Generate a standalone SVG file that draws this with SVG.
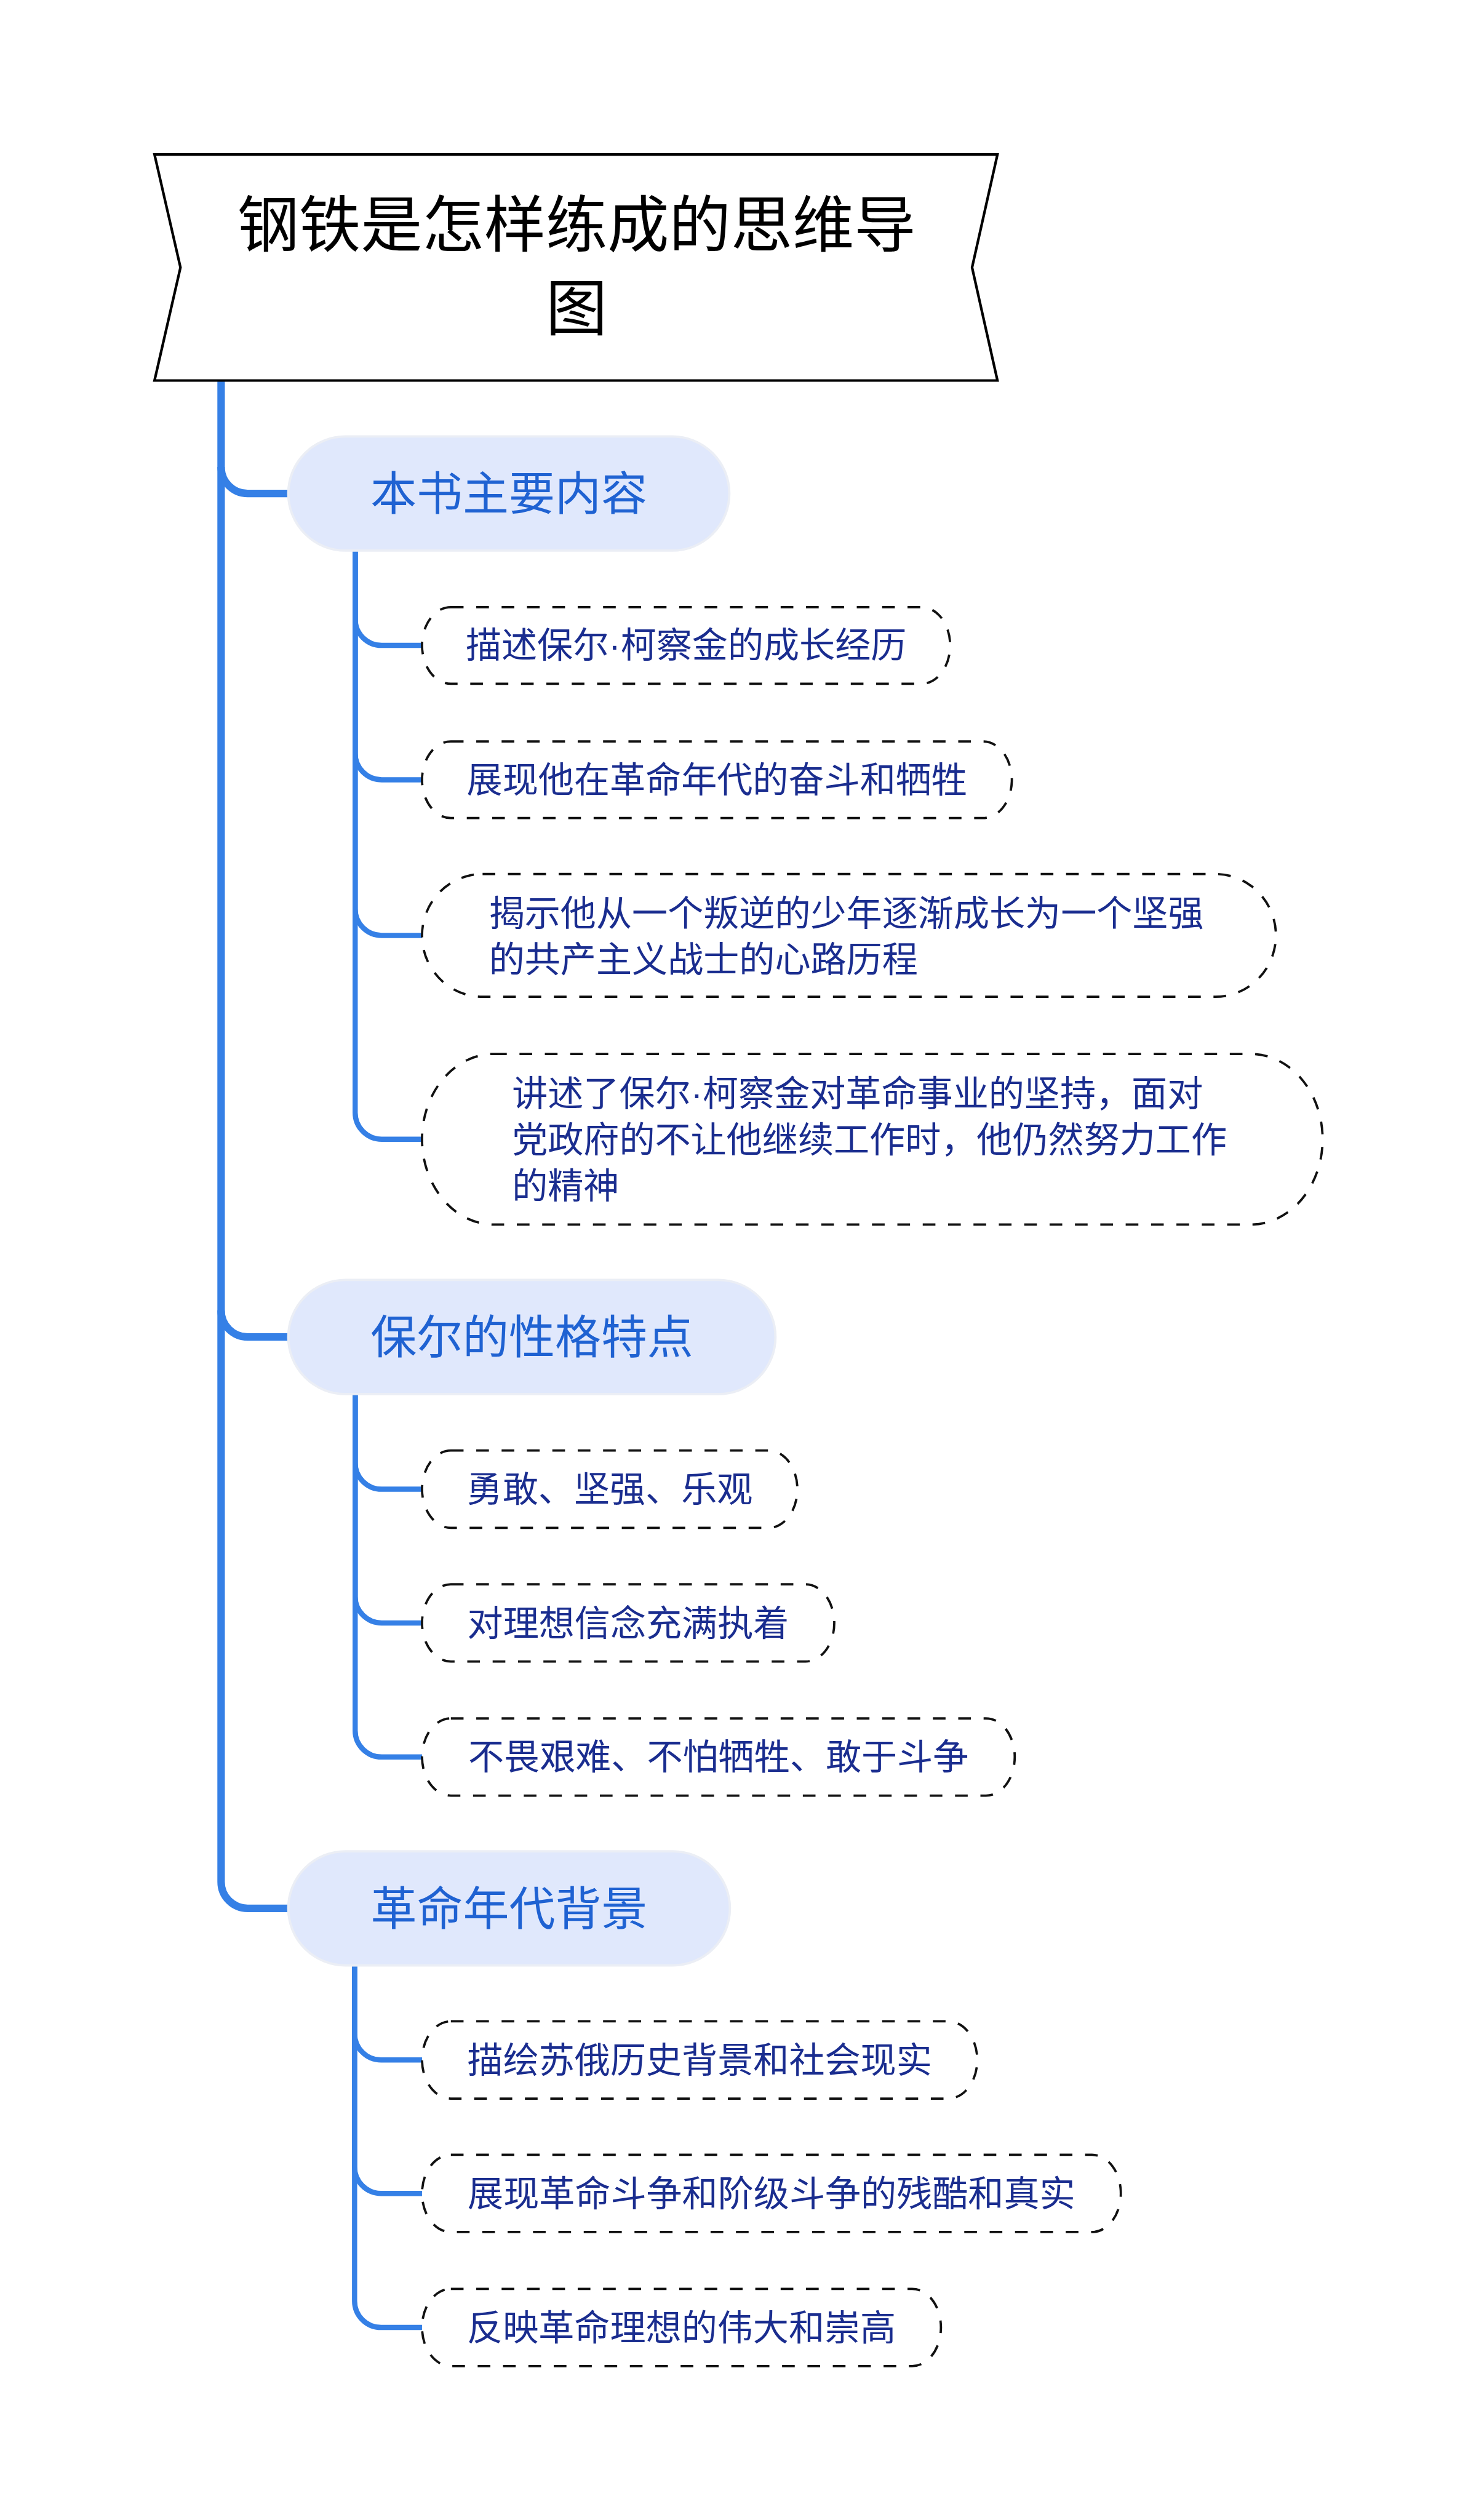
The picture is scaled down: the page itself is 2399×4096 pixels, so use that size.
<svg xmlns="http://www.w3.org/2000/svg" width="2399" height="4096" viewBox="0 0 2399 4096">
<style>
.bg{fill:#ffffff}
.title-box{fill:#ffffff;stroke:#000000;stroke-width:4.5;stroke-linejoin:miter}
.title-text{font-family:"Noto Sans CJK SC","Noto Sans",sans-serif;font-size:107px;fill:#000000;text-anchor:middle}
.l1-box{fill:#E0E8FC;stroke:#EBEEF5;stroke-width:4}
.l1-text{font-family:"Noto Sans CJK SC","Noto Sans",sans-serif;font-size:80px;fill:#1F62D2;text-anchor:middle}
.l2-box{fill:#ffffff;stroke:#111111;stroke-width:4;stroke-dasharray:22 22}
.l2-text{font-family:"Noto Sans CJK SC","Noto Sans",sans-serif;font-size:62px;fill:#1A2D8F}
.mid{text-anchor:middle}
.dot{font-family:"Liberation Sans","Noto Sans",sans-serif}
.trunk{fill:none;stroke:#3580E6;stroke-width:13}
.sub{fill:none;stroke:#3580E6;stroke-width:9}
</style>
<rect class="bg" x="0" y="0" width="2399" height="4096"/>
<g transform="scale(0.9371)">
  <g id="connectors">
    <path class="trunk" d="M383.5 660 V3264 A46 46 0 0 0 429.5 3310 H502"/>
    <path class="trunk" d="M383.5 810 A46 46 0 0 0 429.5 856 H502"/>
    <path class="trunk" d="M383.5 2273 A46 46 0 0 0 429.5 2319 H502"/>
    <path class="sub" d="M616 955 V1073.5 A46 46 0 0 0 662 1119.5 H732"/>
    <path class="sub" d="M616 955 V1306.5 A46 46 0 0 0 662 1352.5 H732"/>
    <path class="sub" d="M616 955 V1576.5 A46 46 0 0 0 662 1622.5 H732"/>
    <path class="sub" d="M616 955 V1930 A46 46 0 0 0 662 1976 H732"/>
    <path class="sub" d="M616 2418 V2537 A46 46 0 0 0 662 2583 H732"/>
    <path class="sub" d="M616 2418 V2769 A46 46 0 0 0 662 2815 H732"/>
    <path class="sub" d="M616 2418 V3001.5 A46 46 0 0 0 662 3047.5 H732"/>
    <path class="sub" d="M615 3409 V3527 A46 46 0 0 0 661 3573 H732"/>
    <path class="sub" d="M615 3409 V3758.5 A46 46 0 0 0 661 3804.5 H732"/>
    <path class="sub" d="M615 3409 V3991 A46 46 0 0 0 661 4037 H732"/>
  </g>

  <g id="root">
    <polygon class="title-box" points="268,268 1730,268 1686,464 1730,660 268,660 313,464"/>
    <text class="title-text" x="1000" y="428">钢铁是怎样练成的思维导<tspan x="1000" dy="145">图</tspan></text>
  </g>

  <g id="n1">
    <rect class="l1-box" x="500" y="757" width="765" height="198" rx="99" ry="99"/>
    <text class="l1-text" x="882.5" y="885">本书主要内容</text>
  </g>
  <g id="n1-1">
    <path class="l2-box" d="M782 1053 H1598 A50 66.5 0 0 1 1648 1119.5 A50 66.5 0 0 1 1598 1186 H782 A50 66.5 0 0 1 732 1119.5 A50 66.5 0 0 1 782 1053 Z"/>
    <text class="l2-text mid" x="1190" y="1141">描述保尔<tspan class="dot">·</tspan>柯察金的成长经历</text>
  </g>
  <g id="n1-2">
    <path class="l2-box" d="M782 1286 H1705 A50 66.5 0 0 1 1755 1352.5 A50 66.5 0 0 1 1705 1419 H782 A50 66.5 0 0 1 732 1352.5 A50 66.5 0 0 1 782 1286 Z"/>
    <text class="l2-text mid" x="1243.5" y="1374">展现他在革命年代的奋斗和牺牲</text>
  </g>
  <g id="n1-3">
    <path class="l2-box" d="M837 1516 H2108 A105 106.5 0 0 1 2213 1622.5 A105 106.5 0 0 1 2108 1729 H837 A105 106.5 0 0 1 732 1622.5 A105 106.5 0 0 1 837 1516 Z"/>
    <text class="l2-text" x="848" y="1606">揭示他从一个叛逆的少年逐渐成长为一个坚强<tspan x="848" dy="80">的共产主义战士的心路历程</tspan></text>
  </g>
  <g id="n1-4">
    <path class="l2-box" d="M857 1828 H2169 A125 148 0 0 1 2294 1976 A125 148 0 0 1 2169 2124 H857 A125 148 0 0 1 732 1976 A125 148 0 0 1 857 1828 Z"/>
    <text class="l2-text" x="888" y="1919">讲述了保尔<tspan class="dot">·</tspan>柯察金对革命事业的坚持，面对<tspan x="888" dy="80">党政府的不让他继续工作时，他仍然努力工作</tspan><tspan x="888" dy="80">的精神</tspan></text>
  </g>

  <g id="n2">
    <rect class="l1-box" x="500" y="2220" width="845" height="198" rx="99" ry="99"/>
    <text class="l1-text" x="922.5" y="2348">保尔的性格特点</text>
  </g>
  <g id="n2-1">
    <path class="l2-box" d="M782 2516 H1333 A50 67 0 0 1 1383 2583 A50 67 0 0 1 1333 2650 H782 A50 67 0 0 1 732 2583 A50 67 0 0 1 782 2516 Z"/>
    <text class="l2-text mid" x="1057.5" y="2605">勇敢、坚强、乐观</text>
  </g>
  <g id="n2-2">
    <path class="l2-box" d="M782 2748 H1397 A50 67 0 0 1 1447 2815 A50 67 0 0 1 1397 2882 H782 A50 67 0 0 1 732 2815 A50 67 0 0 1 782 2748 Z"/>
    <text class="l2-text mid" x="1089.5" y="2837">对理想信念充满执着</text>
  </g>
  <g id="n2-3">
    <path class="l2-box" d="M782 2980.5 H1710 A50 67 0 0 1 1760 3047.5 A50 67 0 0 1 1710 3114.5 H782 A50 67 0 0 1 732 3047.5 A50 67 0 0 1 782 2980.5 Z"/>
    <text class="l2-text mid" x="1246" y="3069.5">不畏艰难、不怕牺牲、敢于斗争</text>
  </g>

  <g id="n3">
    <rect class="l1-box" x="500" y="3211" width="766" height="198" rx="99" ry="99"/>
    <text class="l1-text" x="883" y="3339">革命年代背景</text>
  </g>
  <g id="n3-1">
    <path class="l2-box" d="M782 3506 H1645 A50 67 0 0 1 1695 3573 A50 67 0 0 1 1645 3640 H782 A50 67 0 0 1 732 3573 A50 67 0 0 1 782 3506 Z"/>
    <text class="l2-text mid" x="1213.5" y="3595">描绘苏俄历史背景和社会现实</text>
  </g>
  <g id="n3-2">
    <path class="l2-box" d="M782 3737.5 H1894 A50 67 0 0 1 1944 3804.5 A50 67 0 0 1 1894 3871.5 H782 A50 67 0 0 1 732 3804.5 A50 67 0 0 1 782 3737.5 Z"/>
    <text class="l2-text mid" x="1338" y="3826.5">展现革命斗争和阶级斗争的残酷和真实</text>
  </g>
  <g id="n3-3">
    <path class="l2-box" d="M782 3970 H1582 A50 67 0 0 1 1632 4037 A50 67 0 0 1 1582 4104 H782 A50 67 0 0 1 732 4037 A50 67 0 0 1 782 3970 Z"/>
    <text class="l2-text mid" x="1182" y="4059">反映革命理想的伟大和崇高</text>
  </g>
</g>
</svg>
